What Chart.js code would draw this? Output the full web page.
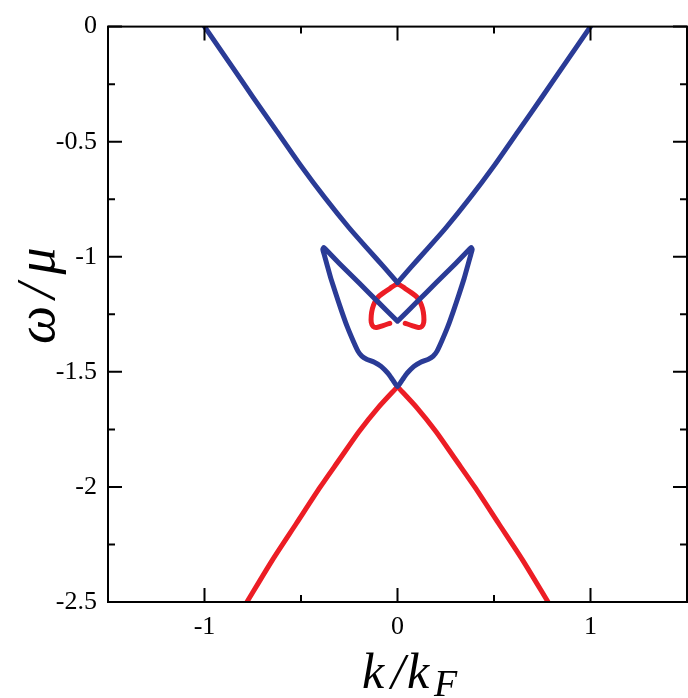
<!DOCTYPE html>
<html><head><meta charset="utf-8">
<script src="https://cdn.jsdelivr.net/npm/chart.js@4.4.0/dist/chart.umd.min.js"></script>
<style>html,body{margin:0;padding:0;background:#fff}#wrap{width:688px;height:698px}</style>
</head><body><div id="wrap"><canvas id="c" width="688" height="698"></canvas></div>
<script>
// ---- tick labels ----
const xTickValues = [-1, 0, 1];
const xTickLabels = ['-1', '0', '1'];
const yTickValues = [0, -0.5, -1, -1.5, -2, -2.5];
const yTickLabels = ['0', '-0.5', '-1', '-1.5', '-2', '-2.5'];
const xMinorTicks = [-0.5, 0.5];
const yMinorTicks = [-0.25, -0.75, -1.25, -1.75, -2.25];

// ---- series (k/kF, omega/mu) ----
// outer blue V
const outerVX = [-1, -0.875, -0.75, -0.625, -0.5, -0.375, -0.25, -0.15, -0.07, 0, 0.07, 0.15, 0.25, 0.375, 0.5, 0.625, 0.75, 0.875, 1];
const outerVY = [0, -0.152, -0.305, -0.455, -0.605, -0.745, -0.875, -0.97, -1.045, -1.112, -1.045, -0.97, -0.875, -0.745, -0.605, -0.455, -0.305, -0.152, 0];
// blue wings (closed loop)
const wingsX = [0, -0.1, -0.2, -0.3, -0.36, -0.382, -0.387, -0.38, -0.365, -0.345, -0.32, -0.29, -0.26, -0.23, -0.205, -0.185, -0.16, -0.12, -0.085, -0.05, -0.025, 0,
                0.025, 0.05, 0.085, 0.12, 0.16, 0.185, 0.205, 0.23, 0.26, 0.29, 0.32, 0.345, 0.365, 0.38, 0.387, 0.382, 0.36, 0.3, 0.2, 0.1, 0];
const wingsY = [-1.28, -1.197, -1.113, -1.03, -0.978, -0.96, -0.968, -0.99, -1.035, -1.095, -1.16, -1.235, -1.305, -1.365, -1.41, -1.432, -1.445, -1.458, -1.476, -1.506, -1.535, -1.564,
                -1.535, -1.506, -1.476, -1.458, -1.445, -1.432, -1.41, -1.365, -1.305, -1.235, -1.16, -1.095, -1.035, -0.99, -0.968, -0.96, -0.978, -1.03, -1.113, -1.197, -1.28];
// red lower band
const lowerRedX = [-0.78, -0.65, -0.525, -0.4, -0.3, -0.2, -0.1, 0, 0.1, 0.2, 0.3, 0.4, 0.525, 0.65, 0.78];
const lowerRedY = [-2.5, -2.32, -2.16, -2.0, -1.88, -1.76, -1.655, -1.564, -1.655, -1.76, -1.88, -2.0, -2.16, -2.32, -2.5];
// red small loop
const redLoopX = [-0.04, -0.075, -0.108, -0.126, -0.136, -0.136, -0.13, -0.118, -0.1, -0.075, -0.04, 0, 0.04, 0.075, 0.1, 0.118, 0.13, 0.136, 0.136, 0.126, 0.108, 0.075, 0.04];
const redLoopY = [-1.289, -1.299, -1.307, -1.303, -1.285, -1.255, -1.225, -1.198, -1.175, -1.158, -1.138, -1.119, -1.138, -1.158, -1.175, -1.198, -1.225, -1.255, -1.285, -1.303, -1.307, -1.299, -1.289];

const BLUE = '#2a3b96';
const RED = '#ec1d25';
const pts = (xs, ys) => xs.map((v, i) => ({x: v, y: ys[i]}));
function ds(data, color, tension) {
  return {data: data, borderColor: color, backgroundColor: color, borderWidth: 5,
          showLine: true, pointRadius: 0, pointHoverRadius: 0, tension: tension,
          borderJoinStyle: 'round', borderCapStyle: 'round', fill: false};
}
// split a V-shaped curve at its apex so each branch is smooth and the kink stays sharp
function branches(xs, ys) {
  const all = pts(xs, ys);
  const k = xs.indexOf(0);
  return [all.slice(0, k + 1), all.slice(k)];
}
const vB = branches(outerVX, outerVY);
const rB = branches(lowerRedX, lowerRedY);

const decor = {
  id: 'decor',
  afterDraw(chart) {
    const {ctx, chartArea: a, scales: {x, y}} = chart;
    ctx.save();
    ctx.strokeStyle = '#000';
    ctx.lineWidth = 2;
    ctx.strokeRect(a.left, a.top, a.right - a.left, a.bottom - a.top);
    const MAJ = 14, MIN = 7;
    ctx.beginPath();
    xTickValues.forEach(v => { const p = x.getPixelForValue(v);
      ctx.moveTo(p, a.bottom); ctx.lineTo(p, a.bottom - MAJ);
      ctx.moveTo(p, a.top); ctx.lineTo(p, a.top + MAJ); });
    xMinorTicks.forEach(v => { const p = x.getPixelForValue(v);
      ctx.moveTo(p, a.bottom); ctx.lineTo(p, a.bottom - MIN);
      ctx.moveTo(p, a.top); ctx.lineTo(p, a.top + MIN); });
    yTickValues.forEach(v => { const p = y.getPixelForValue(v);
      ctx.moveTo(a.left, p); ctx.lineTo(a.left + MAJ, p);
      ctx.moveTo(a.right, p); ctx.lineTo(a.right - MAJ, p); });
    yMinorTicks.forEach(v => { const p = y.getPixelForValue(v);
      ctx.moveTo(a.left, p); ctx.lineTo(a.left + MIN, p);
      ctx.moveTo(a.right, p); ctx.lineTo(a.right - MIN, p); });
    ctx.stroke();
    // x axis title: k/k_F
    ctx.fillStyle = '#000';
    ctx.textBaseline = 'alphabetic';
    ctx.textAlign = 'left';
    ctx.font = 'italic 50px "Liberation Serif"';
    ctx.fillText('k', 362, 688);
    ctx.fillText('/', 391, 688);
    ctx.fillText('k', 407, 688);
    ctx.font = 'italic 38px "Liberation Serif"';
    ctx.fillText('F', 434, 696);
    // y axis title: ω/μ (rotated)
    ctx.save();
    ctx.translate(54, 293);
    ctx.rotate(-Math.PI / 2);
    ctx.textAlign = 'center';
    ctx.font = 'italic 54px "Liberation Serif"';
    ctx.fillText('ω', -32, 0);
    ctx.fillText('/', 2, 0);
    ctx.fillText('μ', 32, 0);
    ctx.restore();
    ctx.restore();
  }
};

new Chart(document.getElementById('c'), {
  type: 'scatter',
  data: {datasets: [
    ds(vB[0], BLUE, 0.25),
    ds(vB[1], BLUE, 0.25),
    ds(pts(wingsX, wingsY), BLUE, 0.15),
    ds(rB[0], RED, 0.25),
    ds(rB[1], RED, 0.25),
    ds(pts(redLoopX, redLoopY), RED, 0.3)
  ]},
  options: {
    responsive: false, animation: false, events: [],
    layout: {padding: {top: 18, right: 1, left: 0, bottom: 0}},
    plugins: {legend: {display: false}, tooltip: {enabled: false}, title: {display: false}},
    scales: {
      x: {type: 'linear', min: -1.5, max: 1.5,
          afterBuildTicks: s => { s.ticks = xTickValues.map(v => ({value: v})); },
          afterFit: s => { s.height = 96; },
          grid: {display: false, drawTicks: false}, border: {display: false},
          ticks: {padding: 10, color: '#000', font: {family: '"Liberation Serif"', size: 26},
                  callback: v => xTickLabels[xTickValues.indexOf(v)]}},
      y: {type: 'linear', min: -2.5, max: 0,
          afterBuildTicks: s => { s.ticks = yTickValues.map(v => ({value: v})); },
          afterFit: s => { s.width = 108; },
          grid: {display: false, drawTicks: false}, border: {display: false},
          ticks: {padding: 11, color: '#000', font: {family: '"Liberation Serif"', size: 26},
                  callback: v => yTickLabels[yTickValues.indexOf(v)]}}
    }
  },
  plugins: [decor]
});
</script>
</body></html>
